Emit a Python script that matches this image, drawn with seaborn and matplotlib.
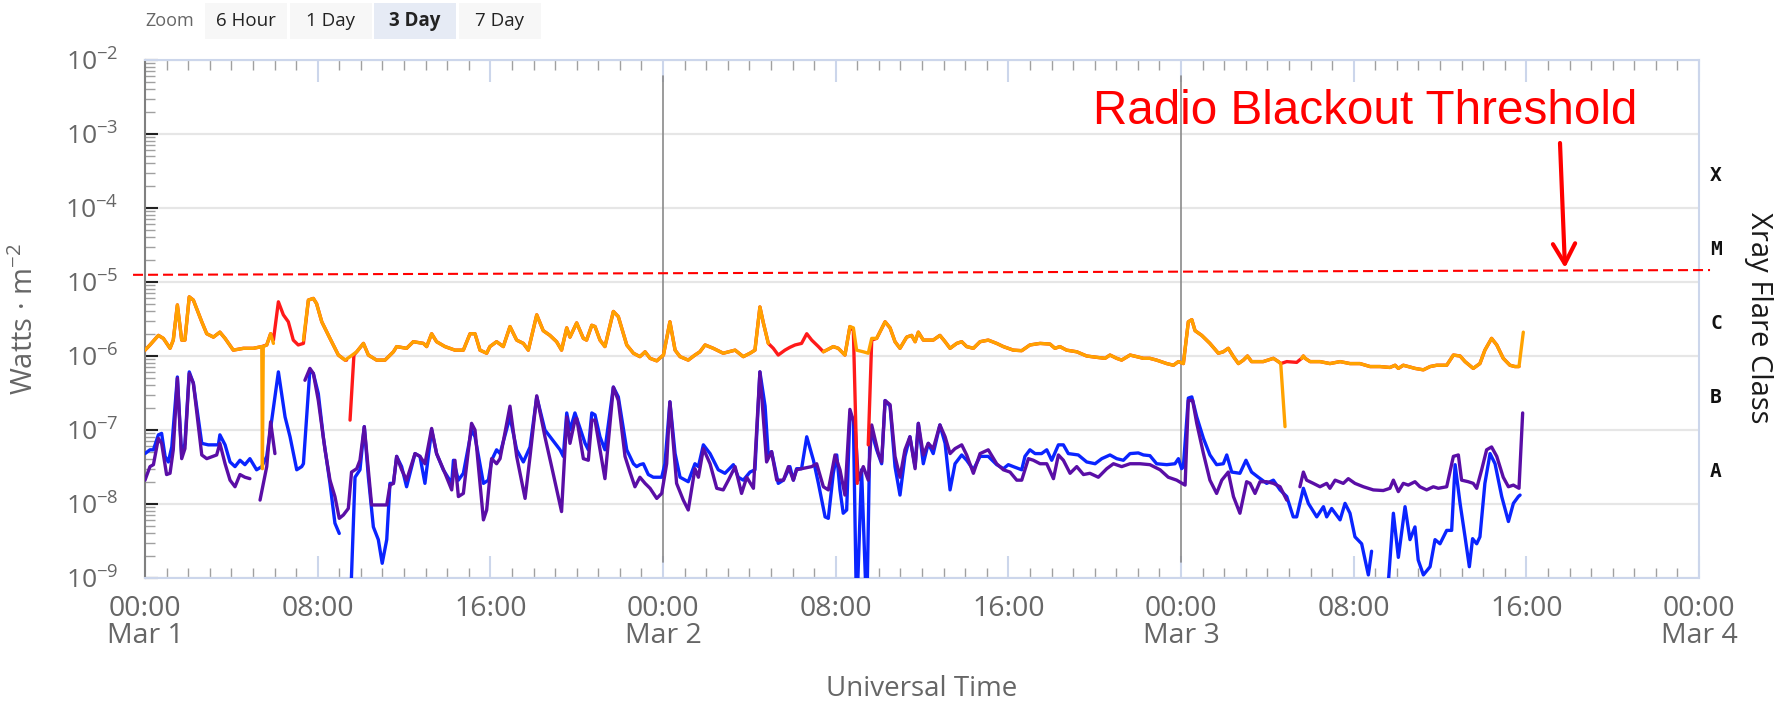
import pandas as pd
import matplotlib
matplotlib.use("Agg")
import matplotlib.pyplot as plt
import matplotlib.dates as mdates
import matplotlib.transforms as mtransforms
from matplotlib.patches import Rectangle, FancyArrowPatch
from matplotlib.ticker import LogLocator, NullFormatter
import seaborn as sns

# ---------------------------------------------------------------------------
# GOES X-ray flux, (hours since 00:00 UT Mar 1, W/m^2); None marks a data gap
# ---------------------------------------------------------------------------
START = pd.Timestamp("2024-03-01 00:00")

long_primary = [  # 0.1-0.8 nm, primary satellite
    (0.00, 1.20e-6), (0.23, 1.41e-6), (0.62, 1.9e-6), (0.85, 1.73e-6), (1.16, 1.27e-6), (1.31, 1.64e-6),
    (1.50, 4.9e-6), (1.70, 1.64e-6), (1.85, 1.64e-6), (2.05, 6.3e-6), (2.24, 5.7e-6), (2.63, 2.9e-6),
    (2.86, 2.0e-6), (3.17, 1.8e-6), (3.47, 2.1e-6), (3.71, 1.73e-6), (4.09, 1.20e-6), (4.56, 1.27e-6),
    (5.02, 1.27e-6), (5.41, 1.34e-6), (5.44, 3.0e-8), (5.48, 1.34e-6), (5.64, 1.41e-6), (5.82, 2.0e-6),
    (5.95, 1.48e-6), None,
    (7.34, 1.64e-6), (7.57, 5.7e-6), (7.80, 6.0e-6), (7.95, 5.1e-6), (8.19, 2.9e-6), (8.57, 1.73e-6),
    (8.96, 1.03e-6), (9.27, 8.8e-7), (9.50, 9.8e-7), (9.81, 1.14e-6), (10.12, 1.48e-6), (10.35, 1.03e-6),
    (10.73, 8.8e-7), (11.12, 8.8e-7), (11.51, 1.14e-6), (11.66, 1.34e-6), (12.12, 1.27e-6), (12.43, 1.56e-6),
    (12.90, 1.48e-6), (13.05, 1.34e-6), (13.28, 2.0e-6), (13.51, 1.56e-6), (13.90, 1.34e-6), (14.36, 1.20e-6),
    (14.75, 1.20e-6), (15.06, 2.0e-6), (15.29, 2.0e-6), (15.52, 1.20e-6), (15.83, 1.09e-6), (15.98, 1.34e-6),
    (16.29, 1.56e-6), (16.60, 1.34e-6), (16.91, 2.5e-6), (17.22, 1.64e-6), (17.53, 1.48e-6), (17.76, 1.20e-6),
    (18.15, 3.6e-6), (18.45, 2.2e-6), (18.76, 1.9e-6), (19.07, 1.56e-6), (19.30, 1.20e-6), (19.54, 2.4e-6),
    (19.69, 1.8e-6), (20.00, 2.8e-6), (20.31, 1.73e-6), (20.46, 1.64e-6), (20.70, 2.6e-6), (20.85, 2.5e-6),
    (21.08, 1.64e-6), (21.31, 1.34e-6), (21.70, 4.0e-6), (21.93, 3.4e-6), (22.32, 1.41e-6), (22.63, 1.09e-6),
    (22.93, 9.8e-7), (23.17, 1.14e-6), (23.40, 9.3e-7), (23.71, 8.6e-7), (24.02, 1.03e-6), (24.32, 2.9e-6),
    (24.56, 1.20e-6), (24.79, 9.8e-7), (25.17, 8.8e-7), (25.48, 1.03e-6), (25.71, 1.14e-6), (25.95, 1.41e-6),
    (26.33, 1.27e-6), (26.79, 1.09e-6), (27.34, 1.20e-6), (27.72, 9.8e-7), (28.03, 1.09e-6), (28.26, 1.20e-6),
    (28.49, 4.6e-6), (28.65, 2.8e-6), (28.88, 1.48e-6), None,
    (31.43, 1.14e-6), (31.89, 1.34e-6), (32.12, 1.27e-6), (32.43, 1.03e-6), (32.66, 2.5e-6), (32.82, 2.4e-6),
    (32.97, 1.20e-6), (33.28, 1.14e-6), (33.51, 1.09e-6), (33.67, 1.73e-6), (33.90, 1.73e-6), (34.29, 2.9e-6),
    (34.52, 2.4e-6), (34.75, 1.56e-6), (34.98, 1.27e-6), (35.29, 1.8e-6), (35.52, 1.9e-6), (35.68, 1.56e-6),
    (35.83, 2.1e-6), (36.06, 1.64e-6), (36.52, 1.64e-6), (36.83, 1.9e-6), (37.07, 1.56e-6), (37.30, 1.27e-6),
    (37.61, 1.48e-6), (37.84, 1.56e-6), (38.07, 1.34e-6), (38.38, 1.27e-6), (38.69, 1.56e-6), (39.07, 1.64e-6),
    (39.46, 1.48e-6), (39.77, 1.34e-6), (40.23, 1.20e-6), (40.62, 1.18e-6), (41.00, 1.41e-6), (41.47, 1.48e-6),
    (41.93, 1.45e-6), (42.16, 1.27e-6), (42.39, 1.34e-6), (42.70, 1.20e-6), (43.17, 1.14e-6), (43.63, 1.0e-6),
    (44.09, 9.6e-7), (44.48, 9.3e-7), (44.71, 1.03e-6), (45.02, 9.3e-7), (45.25, 8.8e-7), (45.64, 1.03e-6),
    (45.95, 9.8e-7), (46.26, 9.3e-7), (46.56, 9.3e-7), (46.87, 8.8e-7), (47.34, 7.9e-7), (47.65, 7.5e-7),
    (47.88, 8.4e-7), (48.11, 7.9e-7), (48.34, 2.9e-6), (48.50, 3.1e-6), (48.65, 2.2e-6), (48.96, 1.9e-6),
    (49.34, 1.48e-6), (49.73, 1.09e-6), (49.96, 1.14e-6), (50.19, 1.27e-6), (50.43, 9.8e-7), (50.66, 7.9e-7),
    (50.89, 8.8e-7), (51.08, 1.0e-6), (51.27, 8.4e-7), (51.81, 8.4e-7), (52.28, 9.3e-7), (52.51, 8.4e-7),
    (52.62, 7.9e-7), (52.82, 1.11e-7), None,
    (53.59, 9.3e-7), (53.67, 1.0e-6), (53.75, 9.3e-7), (53.98, 8.4e-7), (54.44, 8.4e-7), (54.90, 7.9e-7),
    (55.37, 8.4e-7), (55.83, 7.9e-7), (56.29, 7.9e-7), (56.76, 7.2e-7), (57.22, 7.2e-7), (57.68, 7.0e-7),
    (57.92, 7.5e-7), (58.07, 6.8e-7), (58.30, 7.5e-7), (58.53, 7.2e-7), (58.84, 6.8e-7), (59.23, 6.5e-7),
    (59.54, 7.2e-7), (59.85, 7.5e-7), (60.31, 7.5e-7), (60.62, 1.03e-6), (60.93, 1.0e-6), (61.16, 8.4e-7),
    (61.54, 6.8e-7), (61.85, 7.9e-7), (62.08, 1.20e-6), (62.39, 1.73e-6), (62.63, 1.41e-6), (62.93, 9.3e-7),
    (63.24, 7.5e-7), (63.47, 7.2e-7), (63.66, 7.2e-7), (63.86, 2.1e-6),
]

long_secondary = [  # 0.1-0.8 nm, secondary satellite
    (0.00, 1.20e-6), (0.23, 1.41e-6), (0.62, 1.9e-6), (0.85, 1.73e-6), (1.16, 1.27e-6), (1.31, 1.64e-6),
    (1.50, 4.9e-6), (1.70, 1.64e-6), (1.85, 1.64e-6), (2.05, 6.3e-6), (2.24, 5.7e-6), (2.63, 2.9e-6),
    (2.86, 2.0e-6), (3.17, 1.8e-6), (3.47, 2.1e-6), (3.71, 1.73e-6), (4.09, 1.20e-6), (4.56, 1.27e-6),
    (5.02, 1.27e-6), (5.41, 1.34e-6), (5.64, 1.41e-6), (5.82, 2.0e-6), (5.95, 1.64e-6), (6.18, 5.4e-6),
    (6.41, 3.6e-6), (6.64, 2.9e-6), (6.87, 1.64e-6), (7.10, 1.41e-6), (7.34, 1.48e-6), (7.57, 5.7e-6),
    (7.80, 6.0e-6), (7.95, 5.1e-6), (8.19, 2.9e-6), (8.57, 1.73e-6), (8.96, 1.03e-6), (9.27, 8.8e-7),
    (9.34, 8.8e-7), None,
    (9.50, 1.36e-7), (9.68, 1.03e-6), (9.81, 1.14e-6), (10.12, 1.48e-6), (10.35, 1.03e-6),
    (10.73, 8.8e-7), (11.12, 8.8e-7), (11.51, 1.14e-6), (11.66, 1.34e-6), (12.12, 1.27e-6), (12.43, 1.56e-6),
    (12.90, 1.48e-6), (13.05, 1.34e-6), (13.28, 2.0e-6), (13.51, 1.56e-6), (13.90, 1.34e-6), (14.36, 1.20e-6),
    (14.75, 1.20e-6), (15.06, 2.0e-6), (15.29, 2.0e-6), (15.52, 1.20e-6), (15.83, 1.09e-6), (15.98, 1.34e-6),
    (16.29, 1.56e-6), (16.60, 1.34e-6), (16.91, 2.5e-6), (17.22, 1.64e-6), (17.53, 1.48e-6), (17.76, 1.20e-6),
    (18.15, 3.6e-6), (18.45, 2.2e-6), (18.76, 1.9e-6), (19.07, 1.56e-6), (19.30, 1.20e-6), (19.54, 2.4e-6),
    (19.69, 1.8e-6), (20.00, 2.8e-6), (20.31, 1.73e-6), (20.46, 1.64e-6), (20.70, 2.6e-6), (20.85, 2.5e-6),
    (21.08, 1.64e-6), (21.31, 1.34e-6), (21.70, 4.0e-6), (21.93, 3.4e-6), (22.32, 1.41e-6), (22.63, 1.09e-6),
    (22.93, 9.8e-7), (23.17, 1.14e-6), (23.40, 9.3e-7), (23.71, 8.6e-7), (24.02, 1.03e-6), (24.32, 2.9e-6),
    (24.56, 1.20e-6), (24.79, 9.8e-7), (25.17, 8.8e-7), (25.48, 1.03e-6), (25.71, 1.14e-6), (25.95, 1.41e-6),
    (26.33, 1.27e-6), (26.79, 1.09e-6), (27.34, 1.20e-6), (27.72, 9.8e-7), (28.03, 1.09e-6), (28.26, 1.20e-6),
    (28.49, 4.6e-6), (28.65, 2.8e-6), (28.88, 1.48e-6), (29.11, 1.27e-6), (29.34, 1.03e-6), (29.65, 1.20e-6),
    (29.88, 1.31e-6), (30.12, 1.41e-6), (30.42, 1.48e-6), (30.66, 2.0e-6), (30.89, 1.64e-6), (31.20, 1.34e-6),
    (31.43, 1.14e-6), (31.89, 1.34e-6), (32.12, 1.27e-6), (32.43, 1.03e-6), (32.66, 2.5e-6), (32.82, 2.2e-6),
    (33.00, 1.9e-8), None,
    (33.51, 6.3e-8), (33.67, 1.64e-6), (33.90, 1.73e-6), (34.29, 2.9e-6),
    (34.52, 2.4e-6), (34.75, 1.56e-6), (34.98, 1.27e-6), (35.29, 1.8e-6), (35.52, 1.9e-6), (35.68, 1.56e-6),
    (35.83, 2.1e-6), (36.06, 1.64e-6), (36.52, 1.64e-6), (36.83, 1.9e-6), (37.07, 1.56e-6), (37.30, 1.27e-6),
    (37.61, 1.48e-6), (37.84, 1.56e-6), (38.07, 1.34e-6), (38.38, 1.27e-6), (38.69, 1.56e-6), (39.07, 1.64e-6),
    (39.46, 1.48e-6), (39.77, 1.34e-6), (40.23, 1.20e-6), (40.62, 1.18e-6), (41.00, 1.41e-6), (41.47, 1.48e-6),
    (41.93, 1.45e-6), (42.16, 1.27e-6), (42.39, 1.34e-6), (42.70, 1.20e-6), (43.17, 1.14e-6), (43.63, 1.0e-6),
    (44.09, 9.6e-7), (44.48, 9.3e-7), (44.71, 1.03e-6), (45.02, 9.3e-7), (45.25, 8.8e-7), (45.64, 1.03e-6),
    (45.95, 9.8e-7), (46.26, 9.3e-7), (46.56, 9.3e-7), (46.87, 8.8e-7), (47.34, 7.9e-7), (47.65, 7.5e-7),
    (47.88, 8.4e-7), (48.11, 7.9e-7), (48.34, 2.9e-6), (48.50, 3.1e-6), (48.65, 2.2e-6), (48.96, 1.9e-6),
    (49.34, 1.48e-6), (49.73, 1.09e-6), (49.96, 1.14e-6), (50.19, 1.27e-6), (50.43, 9.8e-7), (50.66, 7.9e-7),
    (50.89, 8.8e-7), (51.08, 1.0e-6), (51.27, 8.4e-7), (51.81, 8.4e-7), (52.28, 9.3e-7), (52.51, 8.4e-7),
    (52.62, 7.9e-7), (52.90, 8.4e-7), (53.36, 8.2e-7), (53.59, 9.3e-7), (53.67, 1.0e-6), (53.75, 9.3e-7),
    (53.98, 8.4e-7), (54.44, 8.4e-7), (54.90, 7.9e-7), (55.37, 8.4e-7), (55.83, 7.9e-7), (56.29, 7.9e-7),
    (56.76, 7.2e-7), (57.22, 7.2e-7), (57.68, 7.0e-7), (57.92, 7.5e-7), (58.07, 6.8e-7), (58.30, 7.5e-7),
    (58.53, 7.2e-7), (58.84, 6.8e-7), (59.23, 6.5e-7), (59.54, 7.2e-7), (59.85, 7.5e-7), (60.31, 7.5e-7),
    (60.62, 1.03e-6), (60.93, 1.0e-6), (61.16, 8.4e-7), (61.54, 6.8e-7), (61.85, 7.9e-7), (62.08, 1.20e-6),
    (62.39, 1.73e-6), (62.63, 1.41e-6), (62.93, 9.3e-7), (63.24, 7.5e-7), (63.47, 7.2e-7), (63.66, 7.2e-7),
]

short_primary = [  # 0.05-0.4 nm, primary satellite
    (0.00, 4.8e-8), (0.23, 5.4e-8), (0.39, 5.4e-8), (0.62, 8.6e-8), (0.77, 9.0e-8), (0.93, 4.4e-8),
    (1.08, 3.7e-8), (1.24, 5.9e-8), (1.50, 5.2e-7), (1.70, 4.4e-8), (1.85, 6.6e-8), (2.05, 6.1e-7),
    (2.24, 4.3e-7), (2.63, 6.6e-8), (2.93, 6.3e-8), (3.40, 6.3e-8), (3.47, 8.6e-8), (3.71, 6.3e-8),
    (3.94, 3.7e-8), (4.17, 3.2e-8), (4.40, 3.9e-8), (4.63, 3.4e-8), (4.86, 4.1e-8), (5.17, 2.9e-8),
    (5.41, 3.2e-8), (5.64, 4.4e-8), (6.18, 6.1e-7), (6.49, 1.5e-7), (6.72, 8.1e-8), (7.03, 2.9e-8),
    (7.26, 3.2e-8), (7.34, 3.5e-8), (7.64, 6.5e-7), (7.80, 5.8e-7), (8.03, 3.1e-7), (8.26, 8.1e-8),
    (8.57, 1.9e-8), (8.80, 5.5e-9), (9.00, 4.0e-9), None,
    (9.50, 3e-10), (9.73, 2.3e-8), (9.96, 2.9e-8), (10.16, 1.11e-7), (10.35, 2.3e-8), (10.58, 4.9e-9),
    (10.81, 3.3e-9), (10.99, 1.58e-9), (11.20, 3.3e-9), (11.35, 1.9e-8), (11.51, 1.9e-8), (11.66, 4.4e-8),
    (11.89, 3.2e-8), (12.12, 1.71e-8), (12.51, 4.8e-8), (12.74, 4.4e-8), (12.97, 1.9e-8), (13.28, 1.0e-7),
    (13.51, 4.8e-8), (13.82, 2.9e-8), (14.21, 1.9e-8), (14.29, 3.9e-8), (14.52, 2.1e-8), (14.75, 2.6e-8),
    (15.13, 1.0e-7), (15.29, 8.1e-8), (15.68, 1.9e-8), (15.91, 2.1e-8), (16.06, 3.9e-8), (16.29, 5.4e-8),
    (16.45, 4.8e-8), (16.91, 1.5e-7), (17.22, 5.4e-8), (17.53, 3.7e-8), (17.84, 5.9e-8), (18.15, 2.8e-7),
    (18.53, 1.0e-7), (19.23, 5.4e-8), (19.38, 4.4e-8), (19.54, 1.7e-7), (19.69, 1.0e-7), (19.92, 1.7e-7),
    (20.08, 1.23e-7), (20.39, 6.6e-8), (20.54, 5.4e-8), (20.70, 1.7e-7), (20.85, 1.6e-7), (21.08, 8.1e-8),
    (21.31, 5.4e-8), (21.70, 3.8e-7), (21.93, 2.8e-7), (22.32, 5.4e-8), (22.63, 3.5e-8), (22.78, 3.2e-8),
    (22.93, 3.4e-8), (23.09, 3.5e-8), (23.32, 2.5e-8), (23.55, 2.3e-8), (23.94, 2.3e-8), (24.09, 3.5e-8),
    (24.32, 2.4e-7), (24.56, 4.8e-8), (24.79, 2.3e-8), (25.17, 2.0e-8), (25.48, 3.5e-8), (25.64, 3.2e-8),
    (25.87, 6.3e-8), (26.18, 4.8e-8), (26.56, 2.9e-8), (26.87, 2.6e-8), (27.26, 3.4e-8), (27.49, 2.3e-8),
    (27.72, 2.1e-8), (28.03, 2.7e-8), (28.26, 2.9e-8), (28.49, 6.1e-7), (28.73, 2.1e-7), (28.88, 4.4e-8),
    (29.03, 5.1e-8), (29.34, 1.9e-8), (29.58, 2.1e-8), (29.88, 3.2e-8), (30.04, 2.1e-8), (30.19, 3.0e-8),
    (30.42, 3.0e-8), (30.66, 8.1e-8), (30.97, 3.9e-8), (31.20, 1.9e-8), (31.51, 6.7e-9), (31.66, 6.4e-9),
    (31.89, 2.6e-8), (32.05, 4.6e-8), (32.20, 1.55e-8), (32.35, 7.5e-9), (32.51, 8.3e-9), (32.66, 1.7e-7),
    (32.82, 1.36e-7), (32.97, 3e-10), (33.20, 2.9e-8), (33.44, 3e-10), (33.59, 1.11e-7), (33.90, 5.4e-8),
    (34.13, 3.5e-8), (34.29, 2.5e-7), (34.52, 2.1e-7), (34.75, 3.2e-8), (34.98, 1.32e-8), (35.21, 4.4e-8),
    (35.44, 8.1e-8), (35.68, 3.2e-8), (35.83, 1.23e-7), (36.06, 3.5e-8), (36.29, 6.6e-8), (36.52, 4.8e-8),
    (36.83, 1.17e-7), (37.07, 6.6e-8), (37.30, 1.55e-8), (37.53, 3.5e-8), (37.84, 4.6e-8), (38.07, 3.9e-8),
    (38.38, 2.9e-8), (38.69, 4.4e-8), (39.07, 4.4e-8), (39.46, 3.4e-8), (39.77, 3.0e-8), (40.00, 3.4e-8),
    (40.23, 3.2e-8), (40.62, 2.9e-8), (40.77, 4.4e-8), (41.00, 5.4e-8), (41.24, 4.8e-8), (41.54, 4.8e-8),
    (41.78, 5.4e-8), (42.01, 3.9e-8), (42.32, 6.3e-8), (42.55, 6.3e-8), (42.78, 4.8e-8), (43.24, 4.6e-8),
    (43.63, 3.7e-8), (44.02, 3.5e-8), (44.33, 4.1e-8), (44.71, 4.6e-8), (45.02, 4.1e-8), (45.33, 3.9e-8),
    (45.64, 4.8e-8), (46.02, 4.9e-8), (46.26, 4.6e-8), (46.56, 4.5e-8), (46.87, 3.5e-8), (47.34, 3.4e-8),
    (47.72, 3.5e-8), (47.88, 4.1e-8), (48.03, 3.0e-8), (48.11, 3.2e-8), (48.34, 2.7e-7), (48.50, 2.8e-7),
    (48.73, 1.5e-7), (49.04, 7.7e-8), (49.34, 4.6e-8), (49.65, 3.4e-8), (49.96, 3.5e-8), (50.12, 4.6e-8),
    (50.35, 2.7e-8), (50.73, 2.6e-8), (51.01, 3.9e-8), (51.27, 2.7e-8), (51.58, 2.3e-8), (51.97, 1.9e-8),
    (52.28, 2.1e-8), (52.59, 1.55e-8), (52.90, 1.26e-8), (53.20, 6.7e-9), (53.36, 6.7e-9), (53.67, 1.63e-8),
    (53.90, 1.02e-8), (54.29, 6.7e-9), (54.60, 9.2e-9), (54.75, 6.7e-9), (54.98, 8.7e-9), (55.37, 6.1e-9),
    (55.60, 1.02e-8), (55.83, 7.5e-9), (56.06, 3.6e-9), (56.37, 2.9e-9), (56.68, 1.1e-9), (56.83, 2.3e-9),
    None,
    (57.61, 9e-10), (57.84, 7.5e-9), (58.07, 1.9e-9), (58.38, 9.2e-9), (58.61, 3.3e-9), (58.84, 4.9e-9),
    (58.99, 1.75e-9), (59.23, 1.1e-9), (59.54, 1.42e-9), (59.77, 3.3e-9), (60.00, 2.9e-9), (60.31, 4.4e-9),
    (60.54, 4.4e-9), (60.70, 3.4e-8), (60.93, 1.02e-8), (61.16, 3.6e-9), (61.36, 1.42e-9), (61.51, 3.4e-9),
    (61.70, 2.9e-9), (61.85, 3.6e-9), (62.08, 1.9e-8), (62.32, 4.8e-8), (62.55, 3.5e-8), (62.86, 1.26e-8),
    (63.17, 5.8e-9), (63.40, 1.02e-8), (63.63, 1.26e-8), (63.71, 1.32e-8),
]

short_secondary = [  # 0.05-0.4 nm, secondary satellite
    (0.00, 2.1e-8), (0.23, 3.2e-8), (0.39, 3.4e-8), (0.62, 7.7e-8), (0.77, 6.6e-8), (1.00, 2.5e-8),
    (1.16, 2.6e-8), (1.31, 5.4e-8), (1.50, 5.0e-7), (1.70, 4.1e-8), (1.85, 5.6e-8), (2.05, 5.8e-7),
    (2.24, 4.3e-7), (2.63, 4.6e-8), (2.86, 4.1e-8), (3.32, 4.6e-8), (3.47, 6.6e-8), (3.71, 3.5e-8),
    (3.94, 2.1e-8), (4.17, 1.71e-8), (4.40, 2.5e-8), (4.63, 2.3e-8), (4.86, 2.2e-8), None,
    (5.33, 1.13e-8), (5.64, 3.2e-8), (5.82, 1.29e-7), (6.02, 4.8e-8), None,
    (7.41, 4.7e-7), (7.64, 6.8e-7), (7.80, 5.8e-7), (8.03, 2.5e-7), (8.34, 5.4e-8), (8.57, 2.1e-8),
    (8.80, 1.26e-8), (9.00, 6.4e-9), (9.19, 7.1e-9), (9.42, 8.7e-9), (9.57, 2.7e-8), (9.81, 3.0e-8),
    (9.96, 3.9e-8), (10.16, 1.11e-7), (10.35, 2.9e-8), (10.50, 9.7e-9), (10.81, 9.7e-9), (11.20, 9.7e-9),
    (11.35, 1.8e-8), (11.51, 1.9e-8), (11.66, 4.4e-8), (11.89, 2.9e-8), (12.12, 2.1e-8), (12.51, 4.8e-8),
    (12.74, 4.4e-8), (12.97, 3.5e-8), (13.28, 1.05e-7), (13.51, 4.8e-8), (13.90, 2.6e-8), (14.21, 1.55e-8),
    (14.36, 3.9e-8), (14.52, 1.26e-8), (14.75, 1.39e-8), (15.13, 1.23e-7), (15.29, 1.0e-7), (15.68, 6.1e-9),
    (15.83, 8.3e-9), (16.06, 4.1e-8), (16.29, 3.5e-8), (16.45, 4.1e-8), (16.91, 2.1e-7), (17.22, 4.4e-8),
    (17.61, 1.19e-8), (17.84, 4.4e-8), (18.15, 2.9e-7), (18.53, 8.1e-8), (18.84, 3.2e-8), (19.30, 7.9e-9),
    (19.54, 1.5e-7), (19.69, 6.6e-8), (19.92, 1.36e-7), (20.00, 1.44e-7), (20.31, 4.1e-8), (20.54, 3.9e-8),
    (20.70, 1.36e-7), (20.85, 1.36e-7), (21.31, 2.2e-8), (21.70, 3.8e-7), (21.93, 2.5e-7), (22.24, 4.4e-8),
    (22.47, 2.7e-8), (22.70, 1.71e-8), (22.93, 2.3e-8), (23.17, 1.9e-8), (23.40, 1.63e-8), (23.71, 1.19e-8),
    (23.94, 1.39e-8), (24.17, 3.5e-8), (24.32, 2.4e-7), (24.63, 1.9e-8), (24.94, 1.13e-8), (25.17, 8.3e-9),
    (25.48, 3.0e-8), (25.64, 2.3e-8), (25.87, 5.6e-8), (26.18, 3.5e-8), (26.49, 1.63e-8), (26.79, 1.55e-8),
    (27.03, 2.1e-8), (27.34, 3.2e-8), (27.64, 1.39e-8), (27.88, 2.3e-8), (28.19, 1.63e-8), (28.49, 6.1e-7),
    (28.80, 3.7e-8), (29.03, 5.1e-8), (29.27, 2.1e-8), (29.58, 2.1e-8), (29.81, 3.2e-8), (30.04, 2.1e-8),
    (30.19, 2.9e-8), (30.42, 3.0e-8), (30.89, 3.2e-8), (31.12, 3.5e-8), (31.43, 1.71e-8), (31.66, 1.55e-8),
    (31.97, 4.6e-8), (32.20, 2.9e-8), (32.43, 1.32e-8), (32.66, 1.9e-7), (32.90, 1.11e-7), (33.05, 2.1e-8),
    (33.28, 3.2e-8), (33.51, 2.1e-8), (33.67, 1.17e-7), (33.98, 4.8e-8), (34.13, 3.7e-8), (34.29, 2.5e-7),
    (34.52, 2.2e-7), (34.75, 4.4e-8), (34.98, 2.3e-8), (35.21, 5.4e-8), (35.44, 8.1e-8), (35.68, 3.0e-8),
    (35.83, 1.23e-7), (36.06, 4.6e-8), (36.29, 6.6e-8), (36.52, 5.6e-8), (36.83, 1.17e-7), (37.07, 8.1e-8),
    (37.30, 4.8e-8), (37.53, 5.6e-8), (37.84, 6.3e-8), (38.07, 4.6e-8), (38.38, 2.6e-8), (38.69, 4.8e-8),
    (39.07, 5.4e-8), (39.46, 3.5e-8), (39.77, 2.9e-8), (40.08, 2.7e-8), (40.39, 2.1e-8), (40.62, 2.1e-8),
    (40.93, 4.1e-8), (41.16, 3.9e-8), (41.47, 3.5e-8), (41.78, 3.5e-8), (42.09, 2.2e-8), (42.32, 4.6e-8),
    (42.55, 3.9e-8), (42.86, 2.6e-8), (43.17, 3.2e-8), (43.48, 2.5e-8), (43.78, 2.6e-8), (44.17, 2.3e-8),
    (44.56, 3.0e-8), (44.87, 3.5e-8), (45.25, 3.2e-8), (45.64, 3.5e-8), (46.10, 3.5e-8), (46.56, 3.4e-8),
    (47.03, 2.9e-8), (47.41, 2.3e-8), (47.80, 2.1e-8), (48.19, 1.8e-8), (48.34, 2.5e-7), (48.54, 2.5e-7),
    (48.73, 1.23e-7), (49.04, 4.8e-8), (49.34, 2.1e-8), (49.65, 1.39e-8), (49.89, 2.1e-8), (50.19, 2.7e-8),
    (50.43, 1.26e-8), (50.73, 7.5e-9), (51.04, 2.0e-8), (51.20, 1.9e-8), (51.43, 1.39e-8), (51.66, 2.0e-8),
    (51.97, 2.0e-8), (52.28, 1.9e-8), (52.59, 1.71e-8), (52.90, 1.13e-8), None,
    (53.51, 1.71e-8), (53.67, 2.7e-8), (53.82, 2.1e-8), (54.13, 1.9e-8), (54.44, 1.71e-8), (54.75, 1.9e-8),
    (54.90, 1.63e-8), (55.14, 2.1e-8), (55.52, 1.9e-8), (55.75, 2.2e-8), (56.06, 1.9e-8), (56.45, 1.71e-8),
    (56.91, 1.55e-8), (57.37, 1.52e-8), (57.68, 1.63e-8), (57.84, 2.1e-8), (58.07, 1.47e-8), (58.30, 1.9e-8),
    (58.53, 1.8e-8), (58.84, 2.0e-8), (59.07, 1.71e-8), (59.38, 1.55e-8), (59.69, 1.71e-8), (59.92, 1.63e-8),
    (60.31, 1.71e-8), (60.62, 4.4e-8), (60.85, 4.6e-8), (61.00, 2.1e-8), (61.31, 2.0e-8), (61.54, 1.9e-8),
    (61.70, 1.63e-8), (61.93, 2.9e-8), (62.16, 5.4e-8), (62.39, 5.9e-8), (62.63, 4.4e-8), (62.93, 2.3e-8),
    (63.17, 1.71e-8), (63.40, 1.8e-8), (63.66, 1.63e-8), (63.83, 1.7e-7),
]

# Axis texts and annotations
x_tick_labels = ["00:00\nMar 1", "08:00", "16:00", "00:00\nMar 2", "08:00", "16:00",
                 "00:00\nMar 3", "08:00", "16:00", "00:00\nMar 4"]
decade_exponents = [-9, -8, -7, -6, -5, -4, -3, -2]
flare_classes = ["A", "B", "C", "M", "X"]
class_floor = [1e-8, 1e-7, 1e-6, 1e-5, 1e-4]
day_boundaries = ["2024-03-02", "2024-03-03"]
threshold_ends = [1.25e-5, 1.45e-5]   # hand-drawn blackout marker, left and right end
zoom_buttons = ["6 Hour", "1 Day", "3 Day", "7 Day"]
active_button = "3 Day"

# ---------------------------------------------------------------------------
W, H, DPI = 1782, 705, 100
sns.set_style("white")
plt.rcParams["font.family"] = ["Open Sans", "DejaVu Sans"]
plt.rcParams["mathtext.default"] = "regular"

TICK_GREY = "#666666"
FRAME_BLUE = "#ccd6eb"


def to_frame(points, name):
    rows, seg = [], 0
    for p in points:
        if p is None:
            seg += 1
            continue
        rows.append({"time": START + pd.Timedelta(hours=p[0]), "flux": p[1], "segment": seg})
    df = pd.DataFrame(rows)
    df["series"] = name
    return df


def px_x(px):
    return px / W


def px_y(py):
    return 1 - py / H


fig = plt.figure(figsize=(W / DPI, H / DPI), dpi=DPI)
ax = fig.add_axes([px_x(145), px_y(578), (1699 - 145) / W, (578 - 60) / H])
ax.set_yscale("log")

series = [
    ("short primary", short_primary, "#0a24ff"),
    ("short secondary", short_secondary, "#5a0ea6"),
    ("long secondary", long_secondary, "#ff1a1a"),
    ("long primary", long_primary, "#ffa200"),
]
for name, pts, color in series:
    sns.lineplot(data=to_frame(pts, name), x="time", y="flux", units="segment",
                 estimator=None, color=color, lw=2.4, ax=ax, legend=False, zorder=3)

ax.set_xlim(START, START + pd.Timedelta(days=3))
ax.set_ylim(1e-9, 1e-2)

# x axis: labelled ticks every 8 h, small ticks every hour
ax.set_xticks([START + pd.Timedelta(hours=8 * i) for i in range(len(x_tick_labels))])
ax.set_xticklabels(x_tick_labels)
ax.xaxis.set_minor_locator(mdates.HourLocator())
for lbl in ax.get_xticklabels():
    lbl.set_linespacing(0.95)
ax.tick_params(axis="x", which="major", direction="in", length=16, width=1.5, color=FRAME_BLUE,
               top=True, bottom=True, labelsize=20.5, labelcolor=TICK_GREY, pad=12)
ax.tick_params(axis="x", which="minor", direction="in", length=7, width=1, color="#a0a0a0",
               top=True, bottom=True)

# y axis: decades with log minor ticks
ax.set_yticks([10.0 ** e for e in decade_exponents])
ax.set_yticklabels([f"$10^{{{e}}}$" for e in decade_exponents])
ax.yaxis.set_minor_locator(LogLocator(base=10, subs=range(2, 10)))
ax.yaxis.set_minor_formatter(NullFormatter())
ax.tick_params(axis="y", which="major", direction="in", length=9, width=1.5, color="#222222",
               left=True, right=False, labelsize=19, labelcolor=TICK_GREY, pad=19)
ax.tick_params(axis="y", which="minor", direction="in", length=7, width=1, color="#a0a0a0",
               left=True, right=False)

ax.yaxis.grid(True, which="major", color="#e6e6e6", lw=1.6, zorder=0)
ax.xaxis.grid(False)
ax.set_axisbelow(True)

for side in ["top", "right", "bottom"]:
    ax.spines[side].set_color(FRAME_BLUE)
    ax.spines[side].set_linewidth(1.5)
ax.spines["left"].set_color("#808080")
ax.spines["left"].set_linewidth(1.5)

# day boundary markers
for d in day_boundaries:
    ax.axvline(pd.Timestamp(d), ymin=0.03, ymax=0.97, color="#8a8a8a", lw=1.2, zorder=2)

ax.set_xlabel("Universal Time", fontsize=20, color=TICK_GREY)
ax.xaxis.set_label_coords(0.5, -0.214)
ax.xaxis.label.set_va("center")
ax.set_ylabel("Watts · m$^{-2}$", fontsize=21, color=TICK_GREY)
ax.yaxis.set_label_coords(-0.077, 0.5)
ax.yaxis.label.set_va("center")

# flare class letters on the right, a little below each band's middle
blend = mtransforms.blended_transform_factory(ax.transAxes, ax.transData)
for cls, floor in zip(flare_classes, class_floor):
    ax.text(1.0109, floor * 10 ** 0.44, cls, transform=blend, ha="center", va="center",
            fontfamily="DejaVu Sans Mono", fontweight="bold", fontsize=14, color="#111111")
fig.text(px_x(1758), px_y(318), "Xray Flare Class", rotation=270, ha="center", va="center",
         fontsize=21, color="#1a1a1a")

# radio blackout marker
ax.plot([-0.0077, 1.0071], threshold_ends, transform=blend, color="red", lw=1.5,
        ls=(0, (4.8, 2.4)), clip_on=False, zorder=4)
fig.text(px_x(1093), px_y(123.5), "Radio Blackout Threshold", color="red", fontsize=34.3,
         family="Liberation Sans", ha="left", va="baseline")
fig.add_artist(FancyArrowPatch((px_x(1560), px_y(143)), (px_x(1565), px_y(268)),
                               transform=fig.transFigure, arrowstyle="->,head_length=0.72,head_width=0.4",
                               mutation_scale=20, color="red", lw=3, shrinkA=0, shrinkB=0))

# range selector buttons
fig.text(px_x(145), px_y(21), "Zoom", fontsize=13, color=TICK_GREY, ha="left", va="center")
for i, label in enumerate(zoom_buttons):
    x0 = 205 + i * 84.5
    active = label == active_button
    fig.add_artist(Rectangle((px_x(x0), px_y(39)), 82 / W, 36 / H, transform=fig.transFigure,
                             facecolor="#e6ebf5" if active else "#f7f7f7", edgecolor="none"))
    fig.text(px_x(x0 + 41), px_y(21), label, fontsize=13.5, color="#222222", ha="center", va="center",
             fontweight="bold" if active else "normal")

fig.savefig("out.png", dpi=DPI)
